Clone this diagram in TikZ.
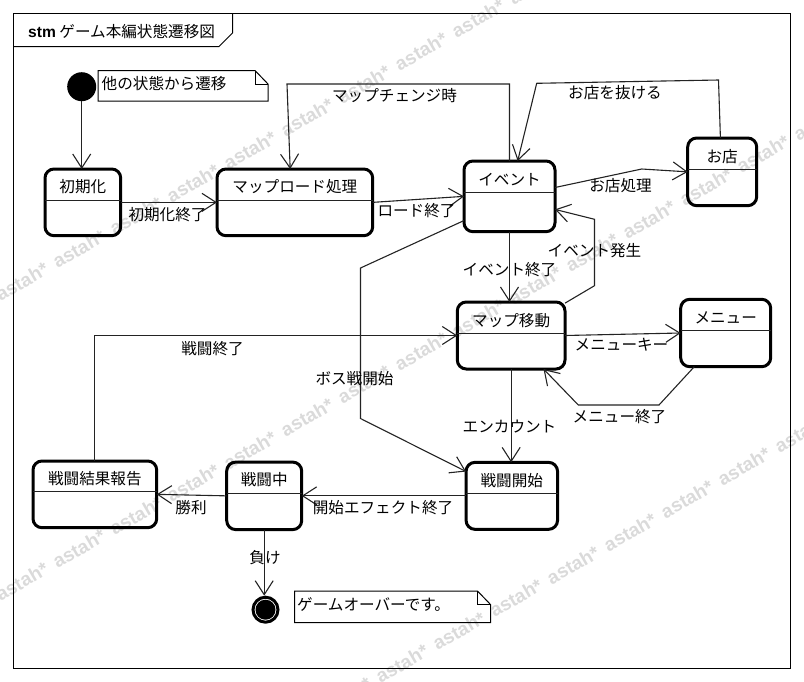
\documentclass[tikz,border=0pt]{standalone}
\usepackage{fontspec}
\setmainfont{Noto Sans CJK JP}
\newfontfamily\latinfont{Liberation Sans}
\usepackage{tikz}
\usetikzlibrary{arrows.meta,positioning,calc}
\definecolor{wmgray}{RGB}{218,218,218}
\definecolor{linegray}{RGB}{35,35,35}
\tikzset{
  statebox/.style={draw=black,line width=3pt,rounded corners=9pt,outer sep=0pt,inner sep=0pt},
  statetitle/.style={inner sep=0pt,font=\fontsize{15.6}{18}\selectfont},
  translabel/.style={inner sep=0pt,font=\fontsize{15.6}{18}\selectfont},
  trans/.style={draw=linegray,line width=1.1pt,-{Straight Barb[length=14pt,width=18pt,line width=1.1pt]}},
  divider/.style={draw=linegray,line width=1pt},
  noteline/.style={draw=black,line width=1pt},
  wmark/.style={inner sep=0pt,rotate=30,text=wmgray,font=\latinfont\bfseries\fontsize{19}{22}\selectfont}
}
\begin{document}
\begin{tikzpicture}[x=1pt,y=-1pt]
        \useasboundingbox (0,0) rectangle (804,681);

        % Watermark
        \begin{scope}
            \clip (0,0) rectangle (804,681);
            \foreach \i in {0,...,11}
                \node[wmark] (wma\i) at (-92+57*\i,347.4-32.9*\i) {astah*};
            \foreach \i in {0,...,17}
                \node[wmark] (wmb\i) at (-92+57*\i,647.3-32.9*\i) {astah*};
            \foreach \i in {0,...,9}
                \node[wmark] (wmc\i) at (345+57*\i,696.5-32.9*\i) {astah*};
        \end{scope}

        % Frame
        \draw[noteline] (13.5,13.5) rectangle (790,668);
        \draw[noteline] (13.5,46.5) -- (219,46.5) -- (232.5,33) -- (232.5,13.5);
        \node[inner sep=0pt,anchor=west,font=\fontsize{15.6}{18}\selectfont] (frametitle) at (28,32)
            {{\latinfont\bfseries stm} ゲーム本編状態遷移図};

        % Start and end
        \node[circle,fill=black,minimum size=29pt,inner sep=0pt,outer sep=0pt] (start) at (81.7,86.7) {};
        \node[circle,draw=black,line width=3pt,minimum size=25pt,inner sep=0pt,outer sep=1.5pt] (final) at (265.5,609.7) {};
        \node[circle,fill=black,minimum size=20pt,inner sep=0pt] (finaldot) at (265.5,609.7) {};

        % Notes
        \draw[noteline] (98,70.5) -- (255,70.5) -- (268,84) -- (268,101) -- (98,101) -- cycle;
        \draw[noteline] (255,70.5) -- (255,84) -- (268,84);
        \node[translabel,anchor=west] (startnote) at (101.5,84) {他の状態から遷移};
        \draw[noteline] (294.5,591) -- (477.5,591) -- (490.5,604.5) -- (490.5,622.5) -- (294.5,622.5) -- cycle;
        \draw[noteline] (477.5,591) -- (477.5,604.5) -- (490.5,604.5);
        \node[translabel,anchor=west] (endnote) at (297,604.5) {ゲームオーバーです。};

        % States
        \node[statebox,minimum width=75.7pt,minimum height=66.7pt] (init) at (82.85,202.35) {};
        \node[statetitle] (inittitle) at (82.85,187) {初期化};
        \draw[divider] (init.west |- 0,200) -- (init.east |- 0,200);

        \node[statebox,minimum width=155.7pt,minimum height=66.7pt] (load) at (294.85,202.35) {};
        \node[statetitle] (loadtitle) at (294.85,187) {マップロード処理};
        \draw[divider] (load.west |- 0,200) -- (load.east |- 0,200);

        \node[statebox,minimum width=91pt,minimum height=70.7pt] (event) at (509.5,196.35) {};
        \node[statetitle] (eventtitle) at (509.5,179.5) {イベント};
        \draw[divider] (event.west |- 0,192) -- (event.east |- 0,192);

        \node[statebox,minimum width=69pt,minimum height=67.7pt] (shop) at (722.2,171.85) {};
        \node[statetitle] (shoptitle) at (722.2,157) {お店};
        \draw[divider] (shop.west |- 0,169) -- (shop.east |- 0,169);

        \node[statebox,minimum width=107.7pt,minimum height=67pt] (map) at (511.15,335.5) {};
        \node[statetitle] (maptitle) at (511.15,321) {マップ移動};
        \draw[divider] (map.west |- 0,333.3) -- (map.east |- 0,333.3);

        \node[statebox,minimum width=90pt,minimum height=67.4pt] (menu) at (725.7,333) {};
        \node[statetitle] (menutitle) at (725.7,318) {メニュー};
        \draw[divider] (menu.west |- 0,330.7) -- (menu.east |- 0,330.7);

        \node[statebox,minimum width=123.7pt,minimum height=66.7pt] (result) at (94.85,494.35) {};
        \node[statetitle] (resulttitle) at (94.85,479) {戦闘結果報告};
        \draw[divider] (result.west |- 0,491) -- (result.east |- 0,491);

        \node[statebox,minimum width=75pt,minimum height=67.5pt] (battle) at (264.2,495.85) {};
        \node[statetitle] (battletitle) at (264.2,480) {戦闘中};
        \draw[divider] (battle.west |- 0,493.7) -- (battle.east |- 0,493.7);

        \node[statebox,minimum width=91.5pt,minimum height=67pt] (encount) at (511.8,495.85) {};
        \node[statetitle] (encounttitle) at (511.8,481) {戦闘開始};
        \draw[divider] (encount.west |- 0,493.5) -- (encount.east |- 0,493.5);

        % Transitions, top row
        \draw[trans] (start.south) -- (start.south |- init.north);
        \draw[trans] (init.east) -- (load.west);
        \draw[trans] (load.east) -- (event.west);
        \coordinate (changeA) at (509.5,84);
        \coordinate (changeB) at (287,84);
        \draw[trans] (event.north) -- (changeA) -- (changeB) -- (load.98);
        \coordinate (leaveA) at (718.5,80);
        \coordinate (leaveB) at (536.7,83.3);
        \draw[trans] (shop.93) -- (leaveA) -- (leaveB) -- (event.77);
        \coordinate (shopA) at (641.7,169);
        \draw[trans] (event.11.6) -- (shopA) -- (shop.west);

        % Transitions, middle row
        \draw[trans] (event.south) -- (event.south |- map.north);
        \coordinate (occurA) at (594.5,285.7);
        \coordinate (occurB) at (594.5,219.3);
        \draw[trans] (map.31) -- (occurA) -- (occurB) -- (event.344.5);
        \draw[trans] (map.east) -- (menu.west);
        \coordinate (backA) at (659,405);
        \coordinate (backB) at (578.3,405);
        \draw[trans] (menu.227) -- (backA) -- (backB) -- (map.314.5);
        \draw[trans] (map.south) -- (map.south |- encount.north);
        \coordinate (bossA) at (360.5,268);
        \coordinate (bossB) at (360.5,418.5);
        \draw[trans] (event.208) -- (bossA) -- (bossB) -- (encount.152);

        % Transitions, bottom row
        \draw[trans] (encount.west) -- (battle.east);
        \draw[trans] (battle.west) -- (result.east);
        \draw[trans] (battle.south) -- (battle.south |- final.north);
        \draw[trans] (result.north) -- (result.north |- map.west) -- (map.west);

        % Labels
        \node[translabel] (l1) at (167.5,214.5) {初期化終了};
        \node[translabel] (l2) at (416.5,211) {ロード終了};
        \node[translabel] (l3) at (394.5,96) {マップチェンジ時};
        \node[translabel] (l4) at (615,93) {お店を抜ける};
        \node[translabel] (l5) at (620.5,186) {お店処理};
        \node[translabel] (l6) at (509.5,270) {イベント終了};
        \node[translabel] (l7) at (594.5,251) {イベント発生};
        \node[translabel] (l8) at (621.5,345) {メニューキー};
        \node[translabel] (l9) at (619.5,417) {メニュー終了};
        \node[translabel] (l10) at (509.5,427) {エンカウント};
        \node[translabel] (l11) at (354.5,379) {ボス戦開始};
        \node[translabel] (l12) at (212.5,349) {戦闘終了};
        \node[translabel] (l13) at (383,507.5) {開始エフェクト終了};
        \node[translabel] (l14) at (191,507.5) {勝利};
        \node[translabel] (l15) at (265,557.5) {負け};
\end{tikzpicture}
\end{document}
